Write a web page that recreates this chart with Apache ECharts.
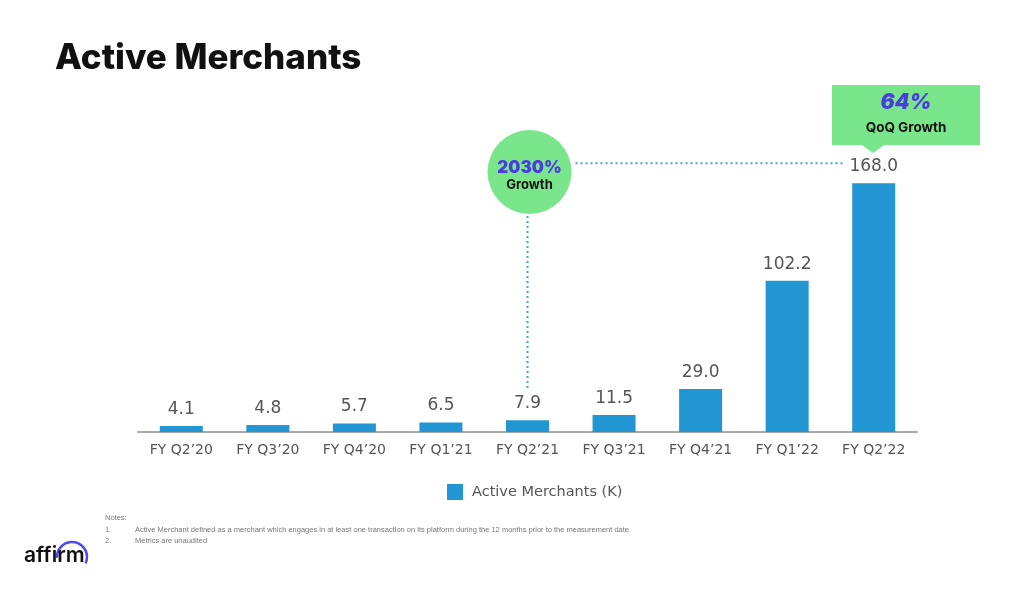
<!DOCTYPE html>
<html>
<head>
<meta charset="utf-8">
<script src="https://cdn.jsdelivr.net/npm/echarts@6/dist/echarts.min.js"></script>
<style>
  html, body { margin: 0; padding: 0; background: #fff; }
  #chart { width: 1017px; height: 590px; }
</style>
</head>
<body>
<div id="chart"></div>
<script>
const categories = ["FY Q2\u201920", "FY Q3\u201920", "FY Q4\u201920", "FY Q1\u201921", "FY Q2\u201921", "FY Q3\u201921", "FY Q4\u201921", "FY Q1\u201922", "FY Q2\u201922"];
const merchants = [4.1, 4.8, 5.7, 6.5, 7.9, 11.5, 29.0, 102.2, 168.0];
const seriesName = "Active Merchants (K)";
const notes = [
  "Active Merchant defined as a merchant which engages in at least one transaction on its platform during the 12 months prior to the measurement date",
  "Metrics are unaudited"
];

const green = "#7AE68C";
const purple = "#4B3BE0";
const dotBlue = "#3FA2F0";

const myChart = echarts.init(document.getElementById("chart"));

const option = {
  animation: false,
  backgroundColor: "#fff",
  title: {
    text: "Active Merchants",
    left: 50,
    top: 36,
    textStyle: {
      fontFamily: "Inter",
      fontWeight: 800,
      fontSize: 35,
      color: "#111"
    }
  },
  legend: {
    data: [seriesName],
    left: 442,
    top: 479,
    itemWidth: 16,
    itemHeight: 16,
    icon: "rect",
    textStyle: {
      fontFamily: "DejaVu Sans",
      fontSize: 14.5,
      color: "#555",
      padding: [0, 0, 0, 4]
    }
  },
  grid: {
    left: 138,
    right: 100,
    top: 136,
    bottom: 158
  },
  xAxis: {
    type: "category",
    data: categories,
    axisTick: { show: false },
    axisLine: { lineStyle: { color: "#aaa", width: 2 } },
    axisLabel: {
      margin: 11,
      fontFamily: "DejaVu Sans",
      fontSize: 14,
      color: "#555"
    }
  },
  yAxis: {
    type: "value",
    min: 0,
    max: 200,
    show: false
  },
  series: [
    {
      name: seriesName,
      type: "bar",
      barWidth: 43,
      data: merchants,
      itemStyle: { color: "#2196D3" },
      label: {
        show: true,
        position: "top",
        distance: 8,
        fontFamily: "DejaVu Sans",
        fontSize: 17,
        color: "#555",
        formatter: (p) => p.value.toFixed(1)
      }
    }
  ]
};

myChart.setOption(option);

// annotations anchored to the axes
const pQ2 = myChart.convertToPixel({ seriesIndex: 0 }, [4, merchants[4]]);
const pLast = myChart.convertToPixel({ seriesIndex: 0 }, [8, merchants[8]]);
const cx = pQ2[0] + 2;
const cy = 172;
const lineY = pLast[1] - 20;

const noteItems = [
  { type: "text", left: 105, top: 514, style: { text: "Notes:", fontSize: 7.5, fill: "#777", fontFamily: "Liberation Sans" } }
];
notes.forEach((t, i) => {
  noteItems.push({ type: "text", left: 105, top: 526 + i * 11, style: { text: (i + 1) + ".", fontSize: 7.5, fill: "#777", fontFamily: "Liberation Sans" } });
  noteItems.push({ type: "text", left: 135, top: 526 + i * 11, style: { text: t, fontSize: 7.5, fill: "#777", fontFamily: "Liberation Sans" } });
});

myChart.setOption({
  graphic: [
    // horizontal dotted connector
    {
      type: "line",
      shape: { x1: cx + 46, y1: lineY, x2: pLast[0] - 30, y2: lineY },
      style: { stroke: dotBlue, lineWidth: 2, lineDash: [2, 3] }
    },
    // vertical dotted connector
    {
      type: "line",
      shape: { x1: pQ2[0], y1: cy + 44, x2: pQ2[0], y2: pQ2[1] - 30 },
      style: { stroke: dotBlue, lineWidth: 2, lineDash: [2, 3] }
    },
    {
      type: "circle",
      shape: { cx: cx, cy: cy, r: 42 },
      style: { fill: green }
    },
    {
      type: "text",
      x: cx, y: cy - 4,
      style: { text: "2030%", fill: purple, fontSize: 17, fontWeight: 900, fontFamily: "Inter", align: "center", verticalAlign: "middle" }
    },
    {
      type: "text",
      x: cx, y: cy + 13,
      style: { text: "Growth", fill: "#111", fontSize: 13, fontWeight: "bold", fontFamily: "Inter", align: "center", verticalAlign: "middle" }
    },
    // QoQ box
    {
      type: "rect",
      shape: { x: 832, y: 85, width: 148, height: 60 },
      style: { fill: green }
    },
    {
      type: "polygon",
      shape: { points: [[862, 145], [884, 145], [873, 153]] },
      style: { fill: green }
    },
    {
      type: "text",
      x: 906, y: 103,
      style: { text: "64%", fill: purple, fontSize: 21, fontWeight: 900, fontStyle: "italic", fontFamily: "Inter", align: "center", verticalAlign: "middle" }
    },
    {
      type: "text",
      x: 906, y: 128,
      style: { text: "QoQ Growth", fill: "#111", fontSize: 13.5, fontWeight: "bold", fontFamily: "Inter", align: "center", verticalAlign: "middle" }
    },
    // logo
    {
      type: "arc",
      shape: { cx: 72, cy: 557, r: 15, startAngle: -Math.PI * 1.02, endAngle: Math.PI * 0.14 },
      style: { stroke: "#4A4AF0", lineWidth: 2.5, fill: null }
    },
    {
      type: "text",
      left: 24, top: 545,
      style: { text: "affirm", fill: "#111", fontSize: 21, fontWeight: 600, fontFamily: "Inter" }
    }
  ].concat(noteItems)
});

window.addEventListener("resize", () => myChart.resize());
</script>
</body>
</html>
